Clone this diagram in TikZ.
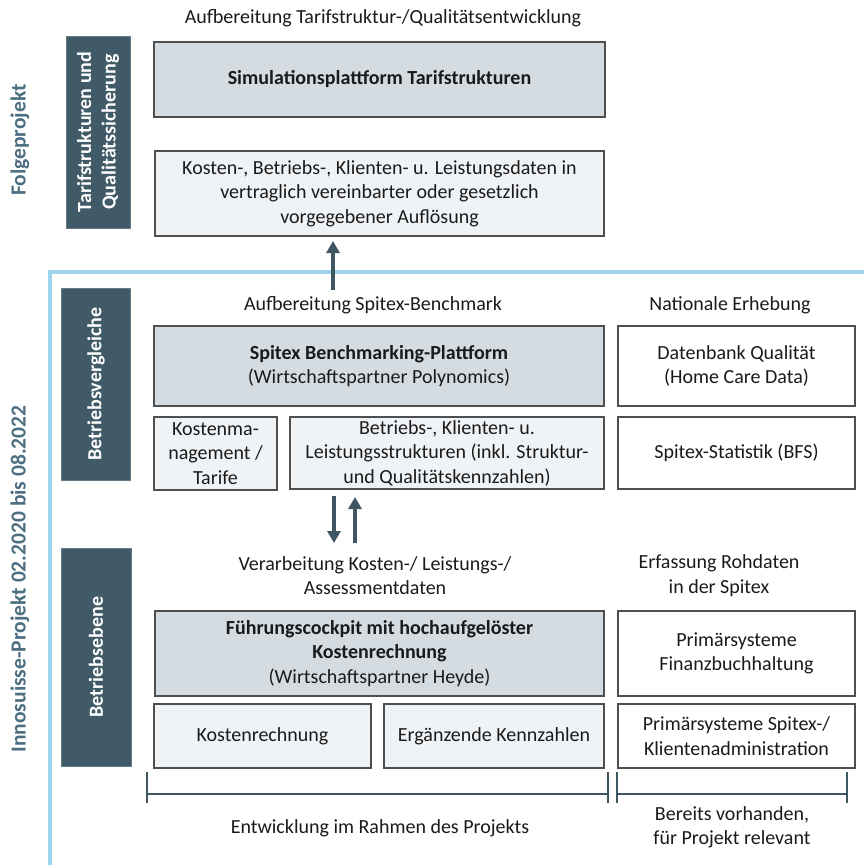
\documentclass[tikz,border=0pt]{standalone}
\usepackage{fontspec}
\setmainfont{Carlito}
\usetikzlibrary{arrows.meta}
\definecolor{darkbox}{HTML}{415A68}
\definecolor{mainfill}{HTML}{D5DCE1}
\definecolor{subfill}{HTML}{F0F3F6}
\definecolor{bordercol}{HTML}{4F4F4F}
\definecolor{textcol}{HTML}{1A1A1A}
\definecolor{outerlbl}{HTML}{4D6E81}
\definecolor{frameblue}{HTML}{9DD3EE}
\definecolor{arrowcol}{HTML}{3F5663}
\newcommand{\fs}{\fontsize{20}{24.5}\selectfont}
\newcommand{\fso}{\fontsize{21.5}{26}\selectfont}
\begin{document}
\begin{tikzpicture}[x=1pt,y=-1pt,
  base/.style={draw=bordercol, line width=1.1pt, inner sep=2pt, align=center, font=\fs, text=textcol},
  mainbox/.style={base, fill=mainfill},
  subbox/.style={base, fill=subfill},
  extbox/.style={base, fill=white},
  sidebox/.style={fill=darkbox, draw=darkbox!80!white, line width=0.6pt, text=white, font=\fs\bfseries, rotate=90, align=center, inner sep=2pt},
  lbl/.style={align=center, font=\fs, text=textcol, inner sep=0pt},
  outer/.style={font=\fso\bfseries, text=outerlbl, rotate=90, inner sep=0pt},
  bigarrow/.style={draw=arrowcol, line width=3.6pt, -{Triangle[width=13pt,length=12pt]}},
  bracket/.style={draw=arrowcol, line width=1.4pt}
]
\useasboundingbox (0,0) rectangle (864,865);
% frame
\draw[frameblue, line width=3.2pt] (50,866) -- (50,272) -- (866,272);

% outer labels
\node[outer] (folge) at (20,140) {Folgeprojekt};
\node[outer] (inno) at (20,579) {Innosuisse-Projekt 02.2020 bis 08.2022};

% side boxes
\node[sidebox, minimum width=192pt, minimum height=64pt] (s1) at (98,132) {Tarifstrukturen und\\Qualitätssicherung};
\node[sidebox, minimum width=192pt, minimum height=69pt] (s2) at (96,384) {Betriebsvergleiche};
\node[sidebox, minimum width=218pt, minimum height=70pt] (s3) at (96,657) {Betriebsebene};

% top section
\node[lbl] (t1) at (383,18) {Aufbereitung Tarifstruktur-/Qualitätsentwicklung};
\node[mainbox, minimum width=451pt, minimum height=75pt] (sim) at (379.5,79.5) {\bfseries Simulationsplattform Tarifstrukturen};
\node[subbox, minimum width=449pt, minimum height=85pt] (kdat) at (379.5,193.5) {Kosten-, Betriebs-, Klienten- u. Leistungsdaten in\\vertraglich vereinbarter oder gesetzlich\\vorgegebener Auflösung};

% middle section
\node[lbl] (t2) at (373,305) {Aufbereitung Spitex-Benchmark};
\node[lbl] (t3) at (730,305) {Nationale Erhebung};
\node[mainbox, minimum width=450pt, minimum height=80pt] (bench) at (379,366) {\textbf{Spitex Benchmarking-Plattform}\\(Wirtschaftspartner Polynomics)};
\node[extbox, minimum width=237pt, minimum height=80pt] (dbq) at (736.5,366) {Datenbank Qualität\\(Home Care Data)};
\node[subbox, minimum width=123pt, minimum height=73pt] (kman) at (215.5,453.5) {Kostenma-\\nagement /\\Tarife};
\node[subbox, minimum width=314pt, minimum height=72pt] (bkl) at (447,453) {Betriebs-, Klienten- u.\\Leistungsstrukturen (inkl. Struktur-\\und Qualitätskennzahlen)};
\node[extbox, minimum width=237pt, minimum height=72pt] (stat) at (736.5,453) {Spitex-Statistik (BFS)};

% lower section
\node[lbl] (t4) at (375,575.5) {Verarbeitung Kosten-/ Leistungs-/\\Assessmentdaten};
\node[lbl] (t5) at (719,575.5) {Erfassung Rohdaten\\in der Spitex};
\node[mainbox, minimum width=449pt, minimum height=85pt] (fc) at (379.5,653.5) {\textbf{Führungscockpit mit hochaufgelöster}\\\textbf{Kostenrechnung}\\(Wirtschaftspartner Heyde)};
\node[extbox, minimum width=237pt, minimum height=85pt] (fibu) at (736.5,653.5) {Primärsysteme\\Finanzbuchhaltung};
\node[subbox, minimum width=217pt, minimum height=64pt] (kr) at (262.5,736) {Kostenrechnung};
\node[subbox, minimum width=220pt, minimum height=64pt] (ek) at (494,736) {Ergänzende Kennzahlen};
\node[extbox, minimum width=237pt, minimum height=64pt] (kla) at (736.5,736) {Primärsysteme Spitex-/\\Klientenadministration};

% arrows
\coordinate (a1s) at (333,290);
\coordinate (a1e) at (333,241);
\draw[bigarrow] (a1s) -- (a1e);
\coordinate (a2s) at (334,496);
\coordinate (a2e) at (334,543);
\draw[bigarrow] (a2s) -- (a2e);
\coordinate (a3s) at (355,543);
\coordinate (a3e) at (355,497);
\draw[bigarrow] (a3s) -- (a3e);

% brackets
\coordinate (b1a) at (147,772);
\coordinate (b1b) at (147,803);
\coordinate (b1c) at (608,772);
\coordinate (b1d) at (608,803);
\draw[bracket] (b1a) -- (b1b);
\draw[bracket] (b1c) -- (b1d);
\draw[bracket] (147,794) -- (608,794);
\coordinate (b2a) at (617,772);
\coordinate (b2b) at (617,803);
\coordinate (b2c) at (847,772);
\coordinate (b2d) at (847,803);
\draw[bracket] (b2a) -- (b2b);
\draw[bracket] (b2c) -- (b2d);
\draw[bracket] (617,794) -- (847,794);

\node[lbl] (t6) at (380,828) {Entwicklung im Rahmen des Projekts};
\node[lbl] (t7) at (732,827.5) {Bereits vorhanden,\\für Projekt relevant};
\end{tikzpicture}
\end{document}
